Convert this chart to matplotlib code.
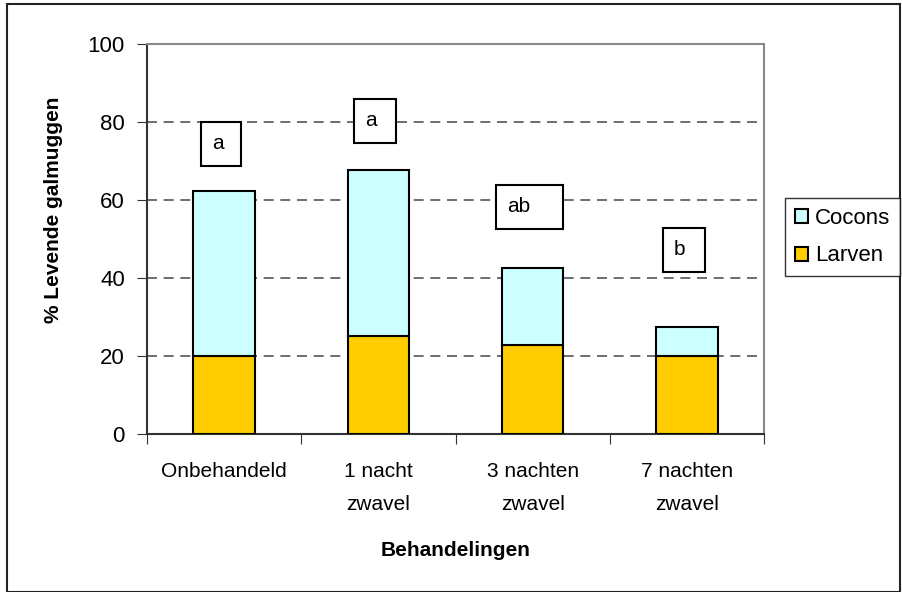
import matplotlib.pyplot as plt
from matplotlib.patches import Rectangle

categorieen = ["Onbehandeld", "1 nacht\nzwavel", "3 nachten\nzwavel", "7 nachten\nzwavel"]
larven = [20.0, 25.1, 22.8, 20.0]
cocons = [42.3, 42.6, 19.8, 7.4]
letters = ["a", "a", "ab", "b"]
letter_y = [74.4, 80.3, 58.2, 47.2]

plt.rcParams["font.family"] = ["Liberation Sans", "DejaVu Sans"]

fig = plt.figure(figsize=(9.02, 5.92), dpi=100)
ax = fig.add_axes([0.163, 0.267, 0.684, 0.659])

x = list(range(len(categorieen)))
ax.bar(x, larven, width=0.4, color="#FFCC00", edgecolor="black", linewidth=1.5,
       label="Larven", zorder=3)
ax.bar(x, cocons, width=0.4, bottom=larven, color="#CCFFFF", edgecolor="black",
       linewidth=1.5, label="Cocons", zorder=3)

# letterblokjes boven de staven
breedte = [0.26, 0.27, 0.43, 0.27]
hoogte = 11.2
for i, (l, y) in enumerate(zip(letters, letter_y)):
    w = breedte[i]
    ax.add_patch(Rectangle((i - 0.02 - w / 2, y - hoogte / 2), w, hoogte,
                           facecolor="white", edgecolor="black", linewidth=1.5,
                           zorder=4))
    ax.text(i - 0.02 - w / 2 + 0.07, y, l, ha="left", va="center",
            fontsize=15, zorder=5)

ax.set_xlim(-0.5, 3.5)
ax.set_ylim(0, 100)
ax.set_yticks([0, 20, 40, 60, 80, 100])
ax.set_xticks([-0.5, 0.5, 1.5, 2.5, 3.5])
ax.set_xticklabels([])
ax.set_xticks(x, minor=True)
ax.set_xticklabels(categorieen, minor=True, fontsize=15, linespacing=1.95)
ax.tick_params(axis="x", which="minor", length=0, pad=20)
ax.tick_params(axis="x", which="major", length=7, direction="out", color="#333333")
ax.tick_params(axis="y", length=7, direction="out", labelsize=16, pad=9, color="#333333")

for yv in [20, 40, 60, 80]:
    ax.axhline(yv, color="#555555", linestyle=(0, (6, 4)), linewidth=1.2, zorder=1)

ax.spines["left"].set_color("#333333")
ax.spines["bottom"].set_color("#333333")
ax.spines["top"].set_color("#888888")
ax.spines["right"].set_color("#888888")
for s in ax.spines.values():
    s.set_linewidth(1.5)

ax.set_ylabel("% Levende galmuggen", fontsize=15, fontweight="bold")
ax.yaxis.set_label_coords(-0.136, 0.574)
ax.set_xlabel("Behandelingen", fontsize=15, fontweight="bold")
ax.xaxis.set_label_coords(0.5, -0.275)

handles, labels = ax.get_legend_handles_labels()
leg = fig.legend(handles[::-1], labels[::-1], loc="upper left",
                 bbox_to_anchor=(0.870, 0.666), fontsize=16, frameon=True,
                 fancybox=False, edgecolor="black", handlelength=0.6,
                 handleheight=0.6, handletextpad=0.3, borderpad=0.45,
                 labelspacing=0.75, borderaxespad=0)
leg.get_frame().set_linewidth(1.0)

# rand rond de hele figuur
fig.patches.append(Rectangle((0.008, 0.0), 0.99, 0.993, transform=fig.transFigure,
                             fill=False, edgecolor="#222222", linewidth=1.5))

fig.savefig("out.png", dpi=100)
